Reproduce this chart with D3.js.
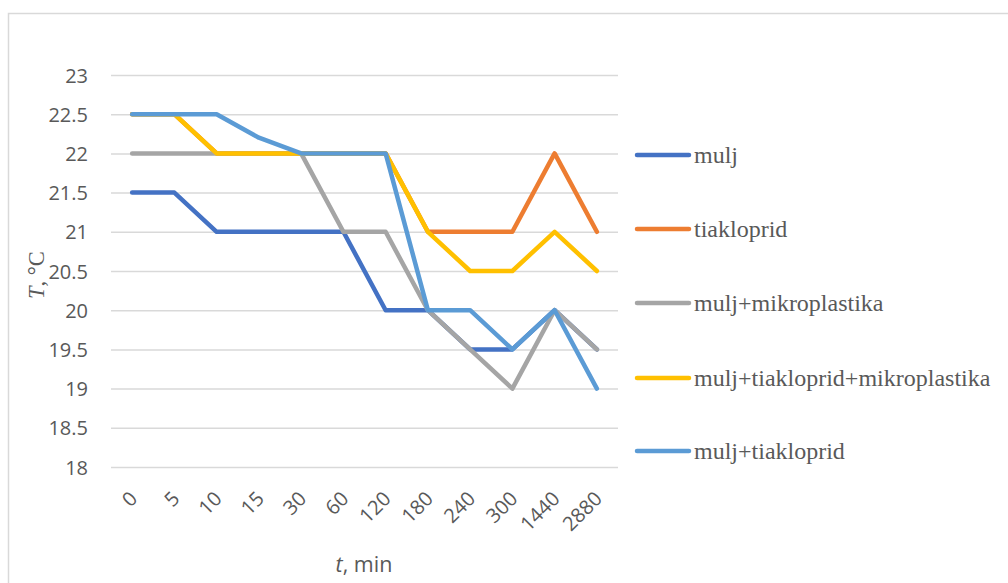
<!DOCTYPE html>
<html>
<head>
<meta charset="utf-8">
<script src="https://cdn.jsdelivr.net/npm/d3@7"></script>
<style>
  html, body { margin: 0; padding: 0; background: #fff; }
  svg { display: block; }
</style>
</head>
<body>
<svg id="chart" width="1008" height="583"></svg>
<script>
// Sampling times (min) and temperatures (°C) for each treatment
const times = ["0", "5", "10", "15", "30", "60", "120", "180", "240", "300", "1440", "2880"];
const mulj = [21.5, 21.5, 21, 21, 21, 21, 20, 20, 19.5, 19.5, 20, 19.5];
const tiakloprid = [22.5, 22.5, 22, 22, 22, 22, 22, 21, 21, 21, 22, 21];
const muljMikroplastika = [22, 22, 22, 22, 22, 21, 21, 20, 19.5, 19, 20, 19.5];
const muljTiaklopridMikroplastika = [22.5, 22.5, 22, 22, 22, 22, 22, 21, 20.5, 20.5, 21, 20.5];
const muljTiakloprid = [22.5, 22.5, 22.5, 22.2, 22, 22, 22, 20, 20, 19.5, 20, 19];
const yTicks = [18, 18.5, 19, 19.5, 20, 20.5, 21, 21.5, 22, 22.5, 23];

const series = [
  { name: "mulj", values: mulj, color: "#4472C4" },
  { name: "tiakloprid", values: tiakloprid, color: "#ED7D31" },
  { name: "mulj+mikroplastika", values: muljMikroplastika, color: "#A5A5A5" },
  { name: "mulj+tiakloprid+mikroplastika", values: muljTiaklopridMikroplastika, color: "#FFC000" },
  { name: "mulj+tiakloprid", values: muljTiakloprid, color: "#5B9BD5" }
];

const svg = d3.select("#chart");

// chart frame
svg.append("rect")
  .attr("x", 8.5).attr("y", 13.5)
  .attr("width", 1010).attr("height", 600)
  .attr("fill", "none").attr("stroke", "#D9D9D9").attr("stroke-width", 1.5);

const plot = { left: 111, right: 618, top: 75, bottom: 467 };

const x = d3.scalePoint()
  .domain(times)
  .range([plot.left, plot.right])
  .padding(0.5);

const y = d3.scaleLinear()
  .domain([18, 23])
  .range([plot.bottom, plot.top]);

// horizontal gridlines
svg.append("g")
  .selectAll("line")
  .data(yTicks)
  .join("line")
  .attr("x1", plot.left).attr("x2", plot.right)
  .attr("y1", d => y(d) + 0.5).attr("y2", d => y(d) + 0.5)
  .attr("stroke", "#D9D9D9").attr("stroke-width", 1.5);

// y axis labels
const yAxis = d3.axisLeft(y).tickValues(yTicks).tickSize(0).tickPadding(0)
  .tickFormat(d => String(d));
const gy = svg.append("g")
  .attr("transform", `translate(${plot.left - 23},0)`)
  .call(yAxis);
gy.select(".domain").remove();
gy.selectAll("text")
  .attr("font-family", "'Open Sans', sans-serif")
  .attr("font-size", 20)
  .attr("fill", "#595959")
  .attr("dy", "0.35em");

// x axis labels, rotated
const xAxis = d3.axisBottom(x).tickSize(0).tickPadding(0);
const gx = svg.append("g")
  .attr("transform", `translate(0,${plot.bottom})`)
  .call(xAxis);
gx.select(".domain").remove();
gx.selectAll("text")
  .attr("font-family", "'Open Sans', sans-serif")
  .attr("font-size", 20)
  .attr("fill", "#595959")
  .attr("text-anchor", "end")
  .attr("dy", null)
  .attr("y", 0)
  .attr("transform", "translate(6,33) rotate(-45)");

// series lines
const line = d3.line()
  .x((d, i) => x(times[i]))
  .y(d => y(d));

svg.append("g")
  .selectAll("path")
  .data(series)
  .join("path")
  .attr("d", d => line(d.values))
  .attr("fill", "none")
  .attr("stroke", d => d.color)
  .attr("stroke-width", 4.5)
  .attr("stroke-linejoin", "round")
  .attr("stroke-linecap", "round");

// axis titles
const xTitle = svg.append("text")
  .attr("x", 364).attr("y", 572)
  .attr("text-anchor", "middle")
  .attr("font-family", "'Open Sans', sans-serif")
  .attr("font-size", 21.5)
  .attr("fill", "#595959");
xTitle.append("tspan").attr("font-style", "italic").text("t");
xTitle.append("tspan").text(", min");

const yTitle = svg.append("text")
  .attr("transform", "translate(44,275) rotate(-90)")
  .attr("text-anchor", "middle")
  .attr("font-family", "'Liberation Serif', 'DejaVu Serif', serif")
  .attr("font-size", 22.5)
  .attr("fill", "#595959");
yTitle.append("tspan").attr("font-style", "italic").text("T");
yTitle.append("tspan").text(", °C");

// legend
const legendY = [155, 229, 303, 378, 451];
const legend = svg.append("g")
  .selectAll("g")
  .data(series)
  .join("g")
  .attr("transform", (d, i) => `translate(637,${legendY[i]})`);
legend.append("line")
  .attr("x1", 0).attr("x2", 52)
  .attr("y1", 0).attr("y2", 0)
  .attr("stroke", d => d.color)
  .attr("stroke-width", 4.5)
  .attr("stroke-linecap", "round");
legend.append("text")
  .attr("x", 57).attr("y", 0)
  .attr("dy", "0.32em")
  .attr("font-family", "'Liberation Serif', 'Times New Roman', serif")
  .attr("font-size", 24)
  .attr("fill", "#595959")
  .text(d => d.name);
</script>
</body>
</html>
